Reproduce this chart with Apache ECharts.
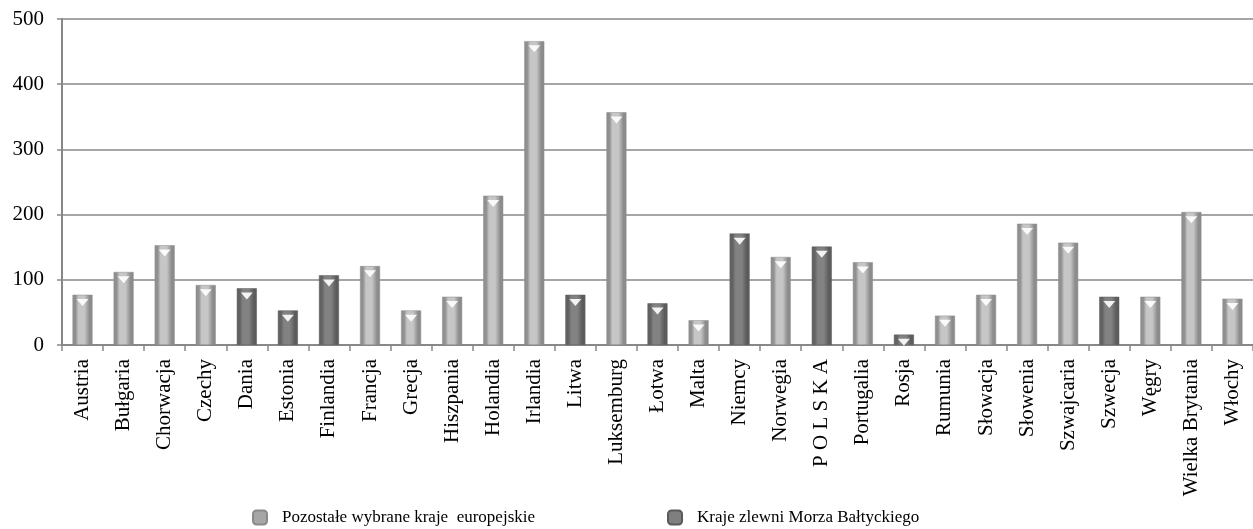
<!DOCTYPE html>
<html><head><meta charset="utf-8">
<script src="https://cdn.jsdelivr.net/npm/echarts@6/dist/echarts.min.js"></script>
<style>html,body{margin:0;padding:0;background:#fff}#c{width:1253px;height:529px}</style>
</head><body><div id="c"></div>
<script>
var categories = ['Austria','Bułgaria','Chorwacja','Czechy','Dania','Estonia','Finlandia','Francja','Grecja','Hiszpania','Holandia','Irlandia','Litwa','Luksemburg','Łotwa','Malta','Niemcy','Norwegia','P O L S K A','Portugalia','Rosja','Rumunia','Słowacja','Słowenia','Szwajcaria','Szwecja','Węgry','Wielka Brytania','Włochy'];
var otherEurope = [77,112,153,92,'-','-','-',121,53,74,229,466,'-',357,'-',38,'-',135,'-',127,'-',45,77,186,157,'-',74,204,71];
var balticBasin = ['-','-','-','-',87,53,107,'-','-','-','-','-',77,'-',64,'-',171,'-',151,'-',16,'-','-','-','-',74,'-','-','-'];
var yTicks = [0,100,200,300,400,500];
var seriesNames = ['Pozostałe wybrane kraje  europejskie','Kraje zlewni Morza Bałtyckiego'];

var combined = categories.map(function(c,i){ return otherEurope[i] !== '-' ? otherEurope[i] : balticBasin[i]; });

function grad(edge, mid, edge2){
  return new echarts.graphic.LinearGradient(0,0,1,0,[
    {offset:0,color:edge},{offset:0.15,color:edge},{offset:0.3,color:mid},{offset:0.6,color:mid},{offset:0.85,color:edge2},{offset:1,color:edge2}
  ]);
}
var serif = '"Liberation Serif","DejaVu Serif",serif';
var chart = echarts.init(document.getElementById('c'));
chart.setOption({
  animation:false,
  backgroundColor:'#fff',
  grid:{left:62, top:19, bottom:184, width:1200},
  legend:{
    top:504, left:247, itemGap:132, itemWidth:14, itemHeight:14, icon:'roundRect',
    textStyle:{fontFamily:serif, fontSize:17, color:'#000', padding:[0,0,0,10]},
    data:[{name:seriesNames[0], itemStyle:{color:'#a6a6a6'}},{name:seriesNames[1], itemStyle:{color:'#7f7f7f'}}]
  },
  xAxis:{
    type:'category', data:categories, boundaryGap:true,
    axisLine:{lineStyle:{color:'#888', width:2}},
    axisTick:{show:true, interval:0, length:6, lineStyle:{color:'#888', width:1.5}},
    axisLabel:{interval:0, rotate:90, margin:14, fontFamily:serif, fontSize:21, color:'#000'}
  },
  yAxis:{
    type:'value', min:yTicks[0], max:yTicks[yTicks.length-1], interval:100,
    axisLine:{show:true, lineStyle:{color:'#888', width:2}},
    axisTick:{show:true, length:5, lineStyle:{color:'#888', width:1.5}},
    splitLine:{lineStyle:{color:'#888', width:1.5}},
    axisLabel:{margin:18, fontFamily:serif, fontSize:21, color:'#000'}
  },
  series:[
    {name:seriesNames[0], type:'bar', stack:'s', barWidth:20, data:otherEurope,
     itemStyle:{color:grad('#909090','#c6c6c6','#8c8c8c'), borderColor:'#8a8a8a', borderWidth:0.5}},
    {name:seriesNames[1], type:'bar', stack:'s', barWidth:20, data:balticBasin,
     itemStyle:{color:grad('#626262','#828282','#5c5c5c'), borderColor:'#5a5a5a', borderWidth:0.5}},
    {name:'cap', type:'pictorialBar', data:combined, barGap:'-100%', symbol:'path://M0,0 L10,0 L5,6 Z',
     symbolSize:[12,7], symbolPosition:'end', symbolOffset:[0,'60%'], silent:true, z:5,
     itemStyle:{color:'rgba(255,255,255,0.9)'}}
  ]
});
</script></body></html>
